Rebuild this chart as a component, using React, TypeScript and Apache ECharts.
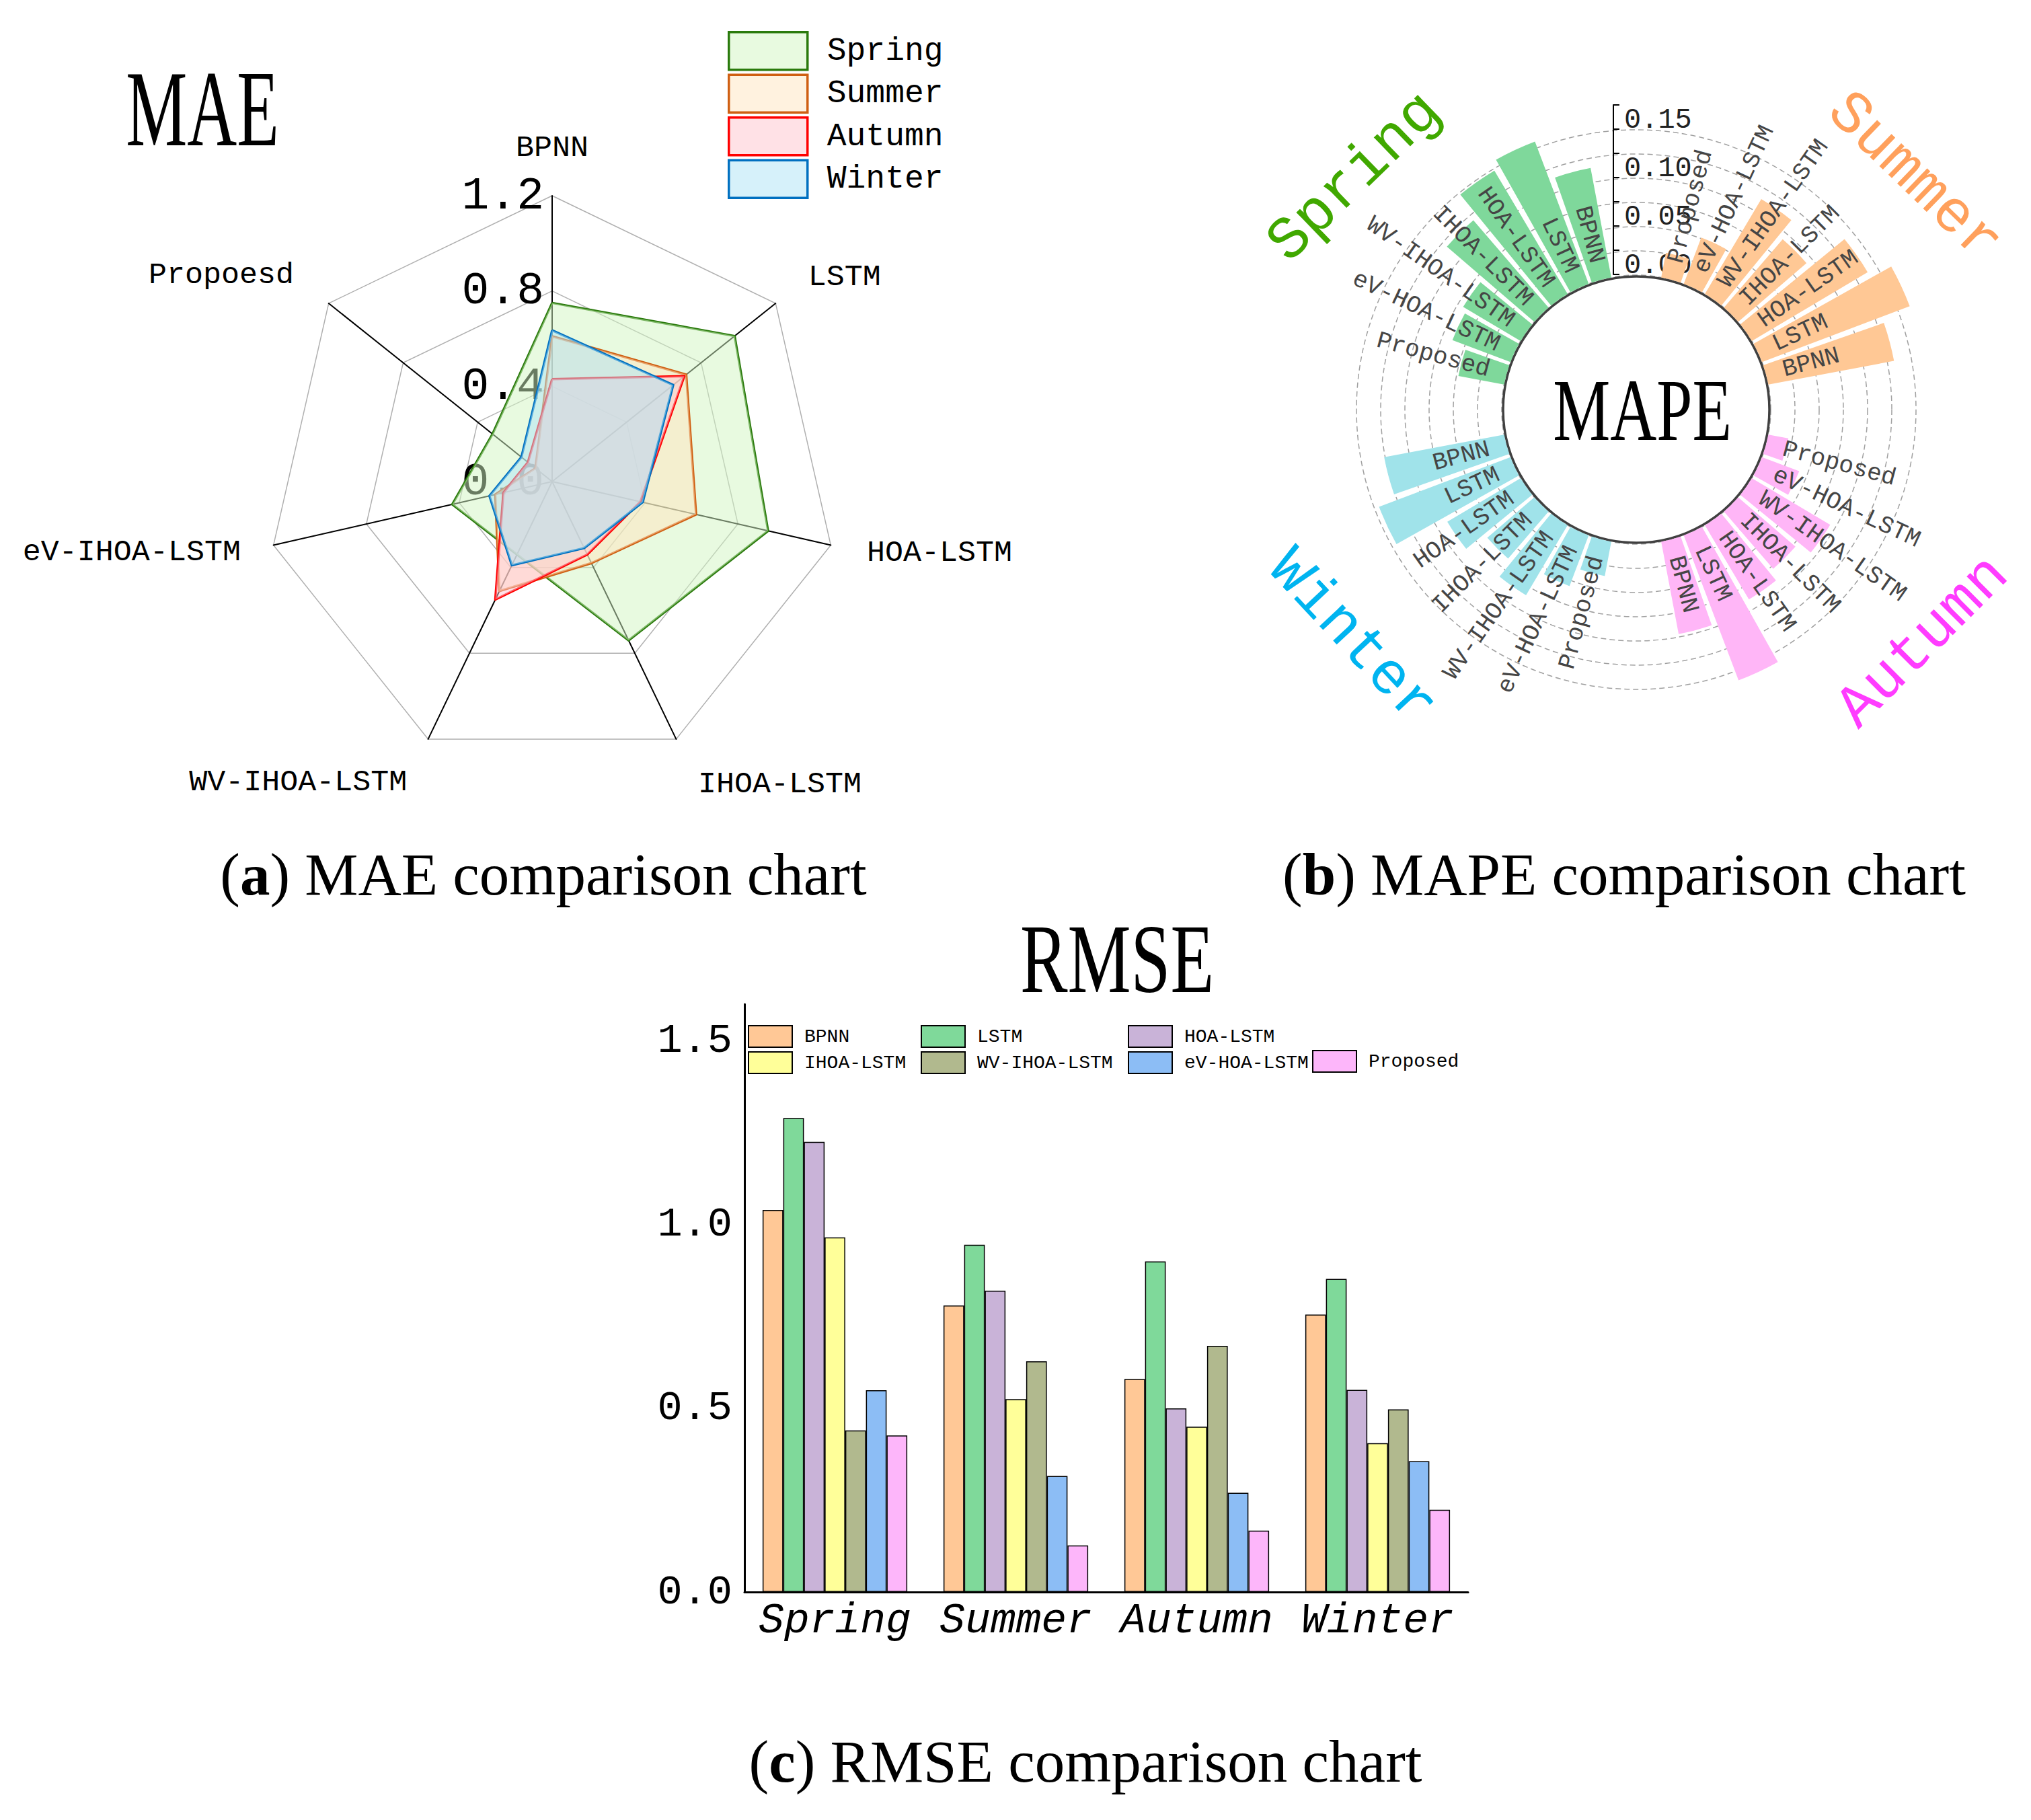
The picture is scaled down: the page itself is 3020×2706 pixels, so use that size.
import React, { useEffect, useRef } from "react";
import * as echarts from "echarts";

// ---------------- DATA ----------------
const seasons = ["Spring", "Summer", "Autumn", "Winter"];

// (a) MAE radar — indicators in clockwise order starting at top
const maeIndicators = ["BPNN", "LSTM", "HOA-LSTM", "IHOA-LSTM", "WV-IHOA-LSTM", "eV-IHOA-LSTM", "Propoesd"];
const maeMax = 1.2;
const maeSpring = [0.75, 0.98, 0.93, 0.74, 0.34, 0.43, 0.32];
const maeSummer = [0.61, 0.72, 0.62, 0.38, 0.51, 0.245, 0.09];
const maeAutumn = [0.43, 0.71, 0.38, 0.34, 0.55, 0.21, 0.13];
const maeWinter = [0.635, 0.65, 0.39, 0.31, 0.39, 0.27, 0.165];

// (b) MAPE polar bars
const models = ["BPNN", "LSTM", "HOA-LSTM", "IHOA-LSTM", "WV-IHOA-LSTM", "eV-HOA-LSTM", "Proposed"];
const mapeSpring = [0.115, 0.157, 0.148, 0.119, 0.069, 0.064, 0.048];
const mapeSummer = [0.132, 0.163, 0.139, 0.093, 0.114, 0.051, 0.026];
const mapeAutumn = [0.097, 0.16, 0.089, 0.078, 0.094, 0.041, 0.021];
const mapeWinter = [0.126, 0.145, 0.088, 0.064, 0.084, 0.056, 0.036];
const mapeTickLabels = ["0.00", "0.05", "0.10", "0.15"];

// (c) RMSE grouped bars (Spring, Summer, Autumn, Winter)
const rmseBPNN = [1.04, 0.78, 0.58, 0.755];
const rmseLSTM = [1.29, 0.945, 0.9, 0.852];
const rmseHOA = [1.225, 0.82, 0.5, 0.55];
const rmseIHOA = [0.965, 0.525, 0.45, 0.405];
const rmseWV = [0.44, 0.628, 0.67, 0.497];
const rmseEV = [0.549, 0.316, 0.27, 0.356];
const rmseProposed = [0.426, 0.127, 0.167, 0.224];

// ---------------- STYLE ----------------
const MONO = "Liberation Mono";
const SERIF = "Liberation Serif";
const radarLine = ["#2a7a0c", "#cf5f12", "#ff0000", "#0070c0"];
const radarFill = ["#d1f5c1", "#ffe4be", "#ffc3cf", "#ade3f5"];
const radarLegendFill = ["#e8fae0", "#fff2df", "#ffe1e6", "#d6f1fa"];
const modelColors = ["#ffc896", "#7fd99a", "#c9b3d8", "#ffff99", "#b1b98e", "#8cbdf5", "#fdb6fa"];
const mapeSeasonColor: Record<string, string> = {
  Spring: "#7fd89b",
  Summer: "#ffc895",
  Winter: "#a0e3ea",
  Autumn: "#ffb6f7",
};

function buildOption() {
  // radar: ECharts lays indicators counter-clockwise, reference is clockwise
  const order = [0, 6, 5, 4, 3, 2, 1];
  const nameGaps = [48, 62, 55, 75, 72, 50, 66];
  const maeAll = [maeSpring, maeSummer, maeAutumn, maeWinter];

  const indicator = order.map((k) => {
    const ind: any = { name: maeIndicators[k], min: 0, max: maeMax, nameGap: nameGaps[k] };
    if (k === 0) {
      ind.axisLabel = {
        show: true,
        color: "#000",
        fontSize: 68,
        fontFamily: MONO,
        margin: 12,
        formatter: (v: number) => v.toFixed(1),
      };
    }
    return ind;
  });

  const radarSeries = seasons.map((s, i) => ({
    type: "radar",
    name: s,
    radarIndex: 0,
    symbol: "none",
    z: 3,
    lineStyle: { color: radarLine[i], width: 3.5 },
    itemStyle: { color: radarLine[i] },
    areaStyle: { color: radarFill[i], opacity: 0.5 },
    data: [{ name: s, value: order.map((k) => maeAll[i][k]) }],
  }));

  // MAPE: 36 slots of 10deg, counter-clockwise from 3 o'clock:
  // Summer, Spring, Winter, Autumn quadrants, each: gap, 7 bars, gap
  const quadOrder = ["Summer", "Spring", "Winter", "Autumn"];
  const mapeBySeason: Record<string, number[]> = {
    Spring: mapeSpring,
    Summer: mapeSummer,
    Autumn: mapeAutumn,
    Winter: mapeWinter,
  };
  const slots: string[] = [];
  const mapeData: any[] = [];
  const labelData: number[][] = [];
  const labelNames: string[] = [];
  quadOrder.forEach((s, q) => {
    for (let j = 0; j < 9; j++) {
      const idx = q * 9 + j;
      slots.push("s" + idx);
      if (j >= 1 && j <= 7) {
        const m = j - 1;
        mapeData.push({ value: mapeBySeason[s][m], itemStyle: { color: mapeSeasonColor[s] } });
        labelData.push([0, idx]);
        labelNames.push(models[m]);
      } else {
        mapeData.push("-");
      }
    }
  });

  const rmseAll = [rmseBPNN, rmseLSTM, rmseHOA, rmseIHOA, rmseWV, rmseEV, rmseProposed];
  const rmseSeries = models.map((m, i) => ({
    type: "bar",
    name: m,
    xAxisIndex: 1,
    yAxisIndex: 1,
    barGap: "0%",
    barCategoryGap: "20%",
    itemStyle: { color: modelColors[i], borderColor: "#000", borderWidth: 1.5 },
    data: rmseAll[i],
  }));

  const legendCommon = {
    orient: "vertical",
    padding: 0,
    itemWidth: 65,
    itemHeight: 32,
    itemGap: 5,
    icon: "rect",
    selectedMode: false,
    textStyle: { fontFamily: MONO, fontSize: 28, color: "#000", padding: [0, 0, 0, 13] },
  };

  const caption = (x: number, y: number, letter: string, rest: string) => ({
    type: "text",
    x,
    y,
    style: {
      text: "{n|(}{b|" + letter + "}{n|) " + rest + "}",
      align: "center",
      verticalAlign: "middle",
      rich: {
        n: { fontSize: 89, fontFamily: SERIF, fill: "#000" },
        b: { fontSize: 89, fontFamily: SERIF, fontWeight: "bold", fill: "#000" },
      },
    },
  });

  const bigTitle = (x: number, y: number, text: string, size: number, sx: number) => ({
    type: "text",
    x,
    y,
    scaleX: sx,
    style: {
      text,
      fontSize: size,
      fontFamily: SERIF,
      fill: "#000",
      align: "center",
      verticalAlign: "middle",
    },
  });

  const seasonText = (x: number, y: number, text: string, deg: number, color: string) => ({
    type: "text",
    x,
    y,
    rotation: (deg * Math.PI) / 180,
    style: {
      text,
      fontSize: 89,
      fontFamily: MONO,
      fill: color,
      align: "center",
      verticalAlign: "middle",
    },
  });

  return {
    animation: false,
    backgroundColor: "#ffffff",
    radar: {
      center: [821, 716],
      radius: 425,
      startAngle: 90,
      shape: "polygon",
      splitNumber: 3,
      axisName: { color: "#000", fontSize: 45, fontFamily: MONO },
      axisLine: { lineStyle: { color: "#000", width: 2 } },
      splitLine: { lineStyle: { color: "#b0b0b0", width: 1.5 } },
      splitArea: { show: false },
      axisTick: { show: false },
      axisLabel: { show: false },
      indicator,
    },
    polar: [
      { center: [2433, 609], radius: [200, 416] },
      { center: [2433, 609], radius: [0, 198] },
    ],
    angleAxis: [
      {
        polarIndex: 0,
        type: "category",
        data: slots,
        startAngle: 0,
        clockwise: false,
        axisLine: { show: false },
        axisTick: { show: false },
        axisLabel: { show: false },
        splitLine: { show: false },
      },
      {
        polarIndex: 1,
        type: "value",
        min: 0,
        max: 360,
        startAngle: 0,
        axisLine: { show: true, lineStyle: { color: "#404040", width: 3.5 } },
        axisTick: { show: false },
        axisLabel: { show: false },
        splitLine: { show: false },
      },
    ],
    radiusAxis: [
      {
        polarIndex: 0,
        type: "value",
        min: 0,
        max: 0.15,
        interval: 0.025,
        axisLine: { show: false },
        axisTick: { show: false },
        axisLabel: { show: false },
        splitLine: { show: true, lineStyle: { color: "#a0a0a0", width: 1.5, type: [8, 5] } },
      },
      {
        polarIndex: 1,
        type: "value",
        min: 0,
        max: 1,
        axisLine: { show: false },
        axisTick: { show: false },
        axisLabel: { show: false },
        splitLine: { show: false },
      },
    ],
    grid: [
      { left: 2399, top: 156, width: 20, height: 252 },
      { left: 1107, top: 1493, width: 1076, height: 874 },
    ],
    xAxis: [
      { gridIndex: 0, type: "value", show: false, min: 0, max: 1 },
      {
        gridIndex: 1,
        type: "category",
        data: seasons,
        axisLine: { lineStyle: { color: "#000", width: 3 } },
        axisTick: { show: false },
        axisLabel: {
          interval: 0,
          color: "#000",
          fontFamily: MONO,
          fontStyle: "italic",
          fontSize: 63,
          margin: 12,
        },
      },
    ],
    yAxis: [
      {
        gridIndex: 0,
        type: "value",
        min: 0,
        max: 0.175,
        interval: 0.025,
        axisLine: { show: true, lineStyle: { color: "#000", width: 2 } },
        axisTick: { show: true, inside: true, length: 9, lineStyle: { color: "#000", width: 2 } },
        splitLine: { show: false },
        axisLabel: {
          inside: true,
          margin: 16,
          verticalAlign: "bottom",
          lineHeight: 26,
          color: "#222",
          fontSize: 42,
          fontFamily: MONO,
          formatter: (v: number) => {
            const k = Math.round(v * 1000);
            return k % 50 === 0 ? mapeTickLabels[k / 50] || "" : "";
          },
        },
      },
      {
        gridIndex: 1,
        type: "value",
        min: 0,
        max: 1.6,
        interval: 0.5,
        axisLine: { show: true, lineStyle: { color: "#000", width: 3 } },
        axisTick: { show: false },
        splitLine: { show: false },
        axisLabel: {
          color: "#000",
          fontSize: 62,
          fontFamily: MONO,
          margin: 18,
          showMaxLabel: false,
          formatter: (v: number) => v.toFixed(1),
        },
      },
    ],
    legend: [
      {
        orient: "vertical",
        left: 1082,
        top: 46,
        padding: 0,
        itemWidth: 117,
        itemHeight: 56,
        itemGap: 4,
        icon: "rect",
        selectedMode: false,
        textStyle: { fontFamily: MONO, fontSize: 48, color: "#000", padding: [0, 0, 0, 24] },
        data: seasons.map((s, i) => ({
          name: s,
          icon: "rect",
          itemStyle: { color: radarLegendFill[i], borderColor: radarLine[i], borderWidth: 3.5 },
        })),
      },
      { ...legendCommon, left: 1112, top: 1524, data: [models[0], models[3]] },
      { ...legendCommon, left: 1369, top: 1524, data: [models[1], models[4]] },
      { ...legendCommon, left: 1677, top: 1524, data: [models[2], models[5]] },
      { ...legendCommon, left: 1951, top: 1561, data: [models[6]] },
    ],
    graphic: [
      bigTitle(301, 162, "MAE", 160, 0.64),
      bigTitle(2442, 610, "MAPE", 131, 0.73),
      bigTitle(1661, 1426, "RMSE", 147, 0.72),
      seasonText(2015, 264, "Spring", 44, "#40a800"),
      seasonText(2846, 264, "Summer", -44, "#ffa05c"),
      seasonText(2010, 948, "Winter", -47, "#00b4f0"),
      seasonText(2860, 955, "Autumn", 45, "#ff3cff"),
      caption(808, 1300, "a", "MAE comparison chart"),
      caption(2415, 1300, "b", "MAPE comparison chart"),
      caption(1614, 2619, "c", "RMSE comparison chart"),
    ],
    series: [
      ...radarSeries,
      {
        type: "bar",
        name: "MAPE",
        coordinateSystem: "polar",
        polarIndex: 0,
        barCategoryGap: "14%",
        clip: false,
        z: 3,
        data: mapeData,
      },
      {
        type: "custom",
        name: "MAPE labels",
        coordinateSystem: "polar",
        polarIndex: 0,
        z: 4,
        data: labelData,
        renderItem: (params: any, api: any) => {
          const cs = params.coordSys;
          const p = api.coord([0, api.value(1)]);
          const dx = p[0] - cs.cx;
          const dy = p[1] - cs.cy;
          const theta = Math.atan2(-dy, dx);
          const r = Math.sqrt(dx * dx + dy * dy) + 26;
          const x = cs.cx + r * Math.cos(theta);
          const y = cs.cy - r * Math.sin(theta);
          const right = Math.cos(theta) >= 0;
          return {
            type: "text",
            x,
            y,
            rotation: right ? theta : theta - Math.PI,
            style: {
              text: labelNames[params.dataIndex],
              align: right ? "left" : "right",
              verticalAlign: "middle",
              fill: "#454545",
              fontSize: 36,
              fontFamily: MONO,
            },
          };
        },
      },
      ...rmseSeries,
    ],
  };
}

export default function App() {
  const ref = useRef<HTMLDivElement>(null);
  useEffect(() => {
    document.body.style.margin = "0";
    const chart = echarts.init(ref.current as HTMLDivElement, null, { renderer: "svg" });
    chart.setOption(buildOption() as any);
    return () => {
      chart.dispose();
    };
  }, []);
  return <div ref={ref} style={{ width: 3020, height: 2706 }} />;
}
